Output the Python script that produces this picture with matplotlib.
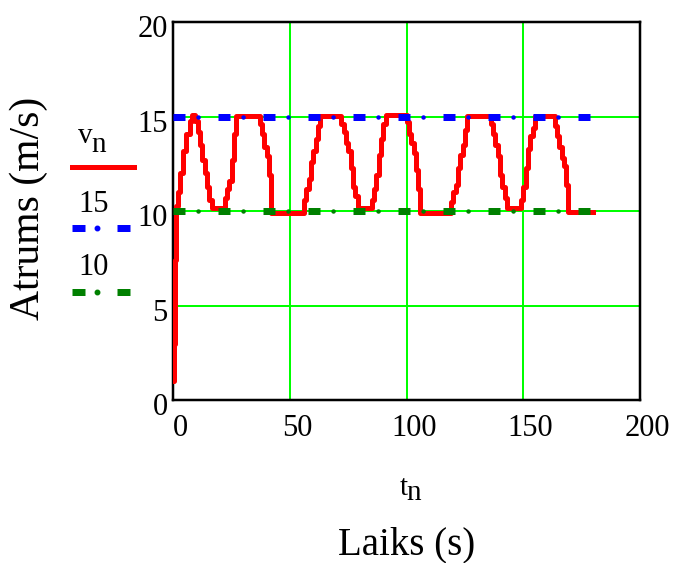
import matplotlib
matplotlib.use('Agg')
import matplotlib.pyplot as plt
import matplotlib.transforms as mtransforms
from matplotlib.lines import Line2D

plt.rcParams['font.family'] = ['Liberation Serif', 'DejaVu Serif']
plt.rcParams['lines.scale_dashes'] = False

# speed samples (time in s, speed in m/s)
t_n = [0, 0.4, 0.8, 1.3, 2, 3, 4, 5.5, 7, 8, 9.5, 10.5, 11.5, 12.5, 13.5, 14.5, 15.5, 16.5,
       22, 23, 24, 25, 26, 27,
       37, 38, 39, 40, 41, 42,
       56, 57, 58, 59, 60, 61, 62, 63,
       72, 73, 74, 75, 76, 77, 78, 79,
       85, 86, 87, 88, 89, 90, 91,
       100, 101, 102, 103, 104, 105, 105.7,
       119, 120, 121, 122, 123, 124, 125, 126,
       136, 137, 138, 139, 140, 141, 142, 143,
       149, 150, 151, 152, 153, 154, 155,
       163.5, 164.5, 165.5, 166.5, 167.5, 168.5, 169.3, 180]
v_n = [1.0, 3.0, 7.4, 10.3, 11.0, 12.0, 13.2, 14.1, 14.8, 15.1, 14.8, 14.2, 13.5, 12.7, 12.0, 11.3, 10.6, 10.15,
       10.7, 11.2, 11.6, 12.7, 14.1, 15.05,
       14.6, 14.1, 13.4, 12.9, 11.9, 9.9,
       10.6, 11.2, 11.7, 12.6, 13.2, 13.8, 14.5, 15.05,
       14.6, 14.2, 13.6, 13.2, 12.3, 11.3, 10.8, 10.15,
       10.6, 11.2, 11.9, 13.0, 13.8, 14.6, 15.1,
       14.7, 14.1, 13.6, 13.1, 12.2, 11.2, 9.9,
       10.5, 11.0, 11.4, 12.3, 13.0, 13.5, 14.3, 15.05,
       14.6, 14.1, 13.5, 12.9, 11.9, 11.3, 10.7, 10.15,
       10.6, 11.3, 12.3, 13.3, 14.0, 14.4, 15.05,
       14.5, 14.0, 13.4, 12.8, 12.4, 11.4, 9.95, 9.95]
upper = 15
lower = 10

x_ticks = [0, 50, 100, 150, 200]
y_ticks = [0, 5, 10, 15, 20]

W, H = 675, 563
PX = 72 / 100  # points per pixel


def fx(px):
    return px / W


def fy(py):
    return 1 - py / H


fig = plt.figure(figsize=(W / 100, H / 100), dpi=100)
ax = fig.add_axes([fx(173.3), fy(400.3), (640 - 173.3) / W, (400.3 - 22.2) / H])

ax.plot(t_n, v_n, color='red', lw=5 * PX, drawstyle='steps-post', zorder=3)

for level, col in [(upper, 'blue'), (lower, 'green')]:
    ax.plot(t_n, [level] * len(t_n), color=col, lw=7 * PX,
            linestyle=(0, (12 * PX, 33 * PX)), dash_capstyle='butt', zorder=4)
    ax.plot(t_n, [level] * len(t_n), color=col, lw=4.5 * PX,
            linestyle=(14.4, (0.1, 32.3)), dash_capstyle='round', zorder=4)

ax.set_xlim(0, 200)
ax.set_ylim(0, 20)
ax.set_xticks(x_ticks)
ax.set_yticks(y_ticks)
ax.grid(True, color='#00ff00', lw=2 * PX, zorder=1)
ax.set_axisbelow(True)
for sp in ax.spines.values():
    sp.set_linewidth(2.5 * PX)
    sp.set_color('black')
ax.tick_params(length=0, labelsize=22)
ax.tick_params(axis='x', pad=10)
ax.tick_params(axis='y', pad=4)

for lab in ax.get_xticklabels():
    lab.set_transform(lab.get_transform() + mtransforms.ScaledTranslation(7 / 100, 0, fig.dpi_scale_trans))
for lab in ax.get_yticklabels():
    lab.set_transform(lab.get_transform() + mtransforms.ScaledTranslation(0, -4 / 100, fig.dpi_scale_trans))

# axis titles
fig.text(fx(29), fy(208), 'Atrums (m/s)', rotation=90, ha='center', va='center', fontsize=30)
fig.text(fx(407), fy(554), 'Laiks (s)', ha='center', va='baseline', fontsize=28)
fig.text(fx(400), fy(495), 't', ha='left', va='baseline', fontsize=21)
fig.text(fx(406.5), fy(500), 'n', ha='left', va='baseline', fontsize=21)

# legend at the left
fig.text(fx(78), fy(143), 'v', ha='left', va='baseline', fontsize=21)
fig.text(fx(91), fy(151.5), 'n', ha='left', va='baseline', fontsize=21)
fig.add_artist(Line2D([fx(72), fx(134)], [fy(166.7)] * 2, color='red', lw=5 * PX))

for label, col, ty, ly in [('15', 'blue', 211.7, 228), ('10', 'green', 275, 291.7)]:
    fig.text(fx(78), fy(ty), label, ha='left', va='baseline', fontsize=22)
    fig.add_artist(Line2D([fx(72), fx(130)], [fy(ly)] * 2, color=col, lw=7 * PX,
                          linestyle=(0, (13 * PX, 32 * PX)), dash_capstyle='butt'))
    fig.add_artist(Line2D([fx(97)], [fy(ly)], color=col, marker='o', ms=4.5 * PX, linestyle='none'))

fig.savefig('out.png', dpi=100)
